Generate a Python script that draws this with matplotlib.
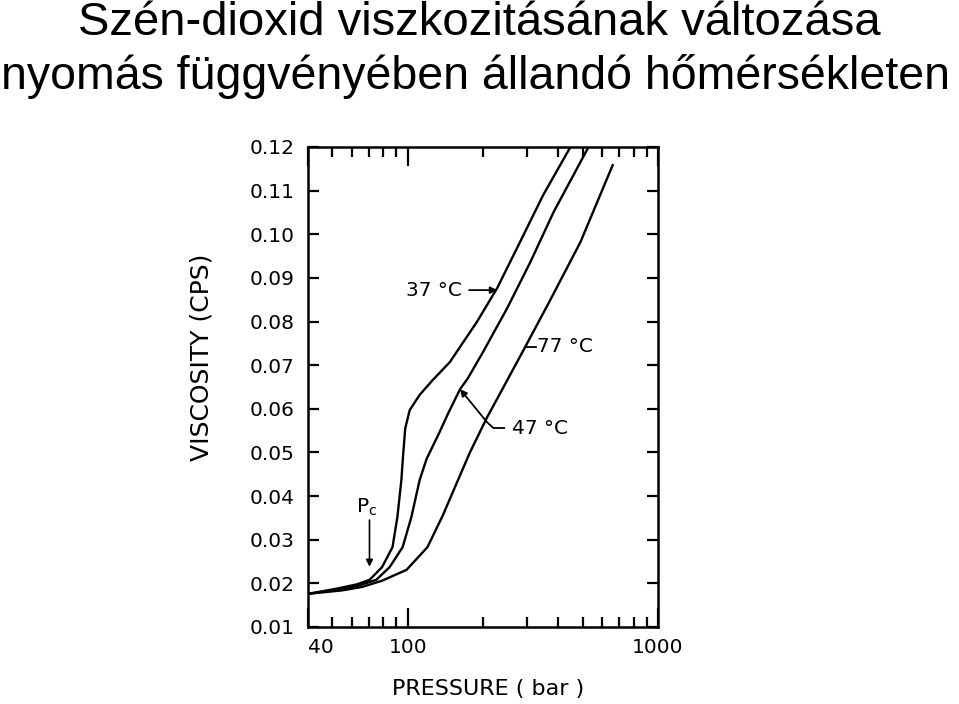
import numpy as np
import matplotlib.pyplot as plt
from matplotlib.ticker import FixedLocator, NullFormatter

plt.rcParams['font.family'] = ['DejaVu Sans']

# pressure (bar) / viscosity (cP)
p_37 = [40, 52.3, 63, 70.4, 79, 87, 91, 94.4, 95.8, 97.8, 101.9, 111.7, 126, 147.4,
        189, 228, 281, 348, 447]
v_37 = [0.0176, 0.0188, 0.0198, 0.0208, 0.0237, 0.0283, 0.0352, 0.0437, 0.049, 0.0555,
        0.0597, 0.0632, 0.0666, 0.0707, 0.0799, 0.0877, 0.0982, 0.109, 0.12]

p_47 = [40, 52, 63, 74.9, 84.7, 95.5, 103.5, 111.7, 119, 134, 145, 162, 174,
        200, 250, 309, 383, 528]
v_47 = [0.0176, 0.0185, 0.0194, 0.0208, 0.0237, 0.0283, 0.0352, 0.0437, 0.0485, 0.0546,
        0.0589, 0.0645, 0.0670, 0.073, 0.0831, 0.0936, 0.1051, 0.12]

p_77 = [40, 55, 66, 79, 99, 120, 138, 159, 177, 207, 238, 295, 371, 490, 660]
v_77 = [0.0176, 0.0184, 0.0192, 0.0206, 0.0231, 0.0283, 0.0355, 0.0437, 0.0499, 0.0579,
        0.0643, 0.0742, 0.0849, 0.0982, 0.1159]

yticks = [0.01, 0.02, 0.03, 0.04, 0.05, 0.06, 0.07, 0.08, 0.09, 0.10, 0.11, 0.12]
xticks = [40, 100, 1000]
xminor = [50, 60, 70, 80, 90, 200, 300, 400, 500, 600, 700, 800, 900]

fig = plt.figure(figsize=(9.59, 7.04), dpi=100)
ax = fig.add_axes([0.3212, 0.1094, 0.3649, 0.6818])

for p, v in [(p_37, v_37), (p_47, v_47), (p_77, v_77)]:
    ax.plot(p, v, color="black", lw=1.7, solid_joinstyle="round", solid_capstyle="round")

ax.set_xscale("log")
ax.set_xlim(40, 1000)
ax.set_ylim(0.01, 0.12)

ax.set_yticks(yticks)
ax.set_yticklabels([f"{t:.2f}" for t in yticks])
ax.xaxis.set_major_locator(FixedLocator(xticks))
ax.set_xticklabels([str(t) for t in xticks])
ax.xaxis.set_minor_locator(FixedLocator(xminor))
ax.xaxis.set_minor_formatter(NullFormatter())
ax.get_xticklabels()[0].set_horizontalalignment("left")

ax.tick_params(axis="y", which="major", direction="in", length=8, width=1.6,
               left=True, right=True, labelsize=14.5, pad=10)
ax.tick_params(axis="x", which="major", direction="in", length=14, width=1.6,
               top=True, bottom=True, labelsize=14.5, pad=8)
ax.tick_params(axis="x", which="minor", direction="in", length=7, width=1.6,
               top=True, bottom=True)
for s in ax.spines.values():
    s.set_linewidth(1.8)

ax.set_ylabel("VISCOSITY (CPS)", fontsize=18)
ax.yaxis.set_label_coords(-0.271, 0.5625)
ax.set_xlabel("PRESSURE ( bar )", fontsize=16)
ax.xaxis.set_label_coords(0.514, -0.108)

# curve labels
ax.annotate("37 °C", xy=(228, 0.0872), xytext=(165, 0.0872), fontsize=14.5,
            ha="right", va="center",
            arrowprops=dict(arrowstyle="-|>", color="black", lw=1.3, shrinkA=3, shrinkB=0,
                            mutation_scale=10))
ax.plot([295, 325], [0.0742, 0.0742], color="black", lw=1.3)
ax.text(330, 0.0742, "77 °C", fontsize=14.5, ha="left", va="center")
ax.annotate("", xy=(162, 0.0645), xytext=(207, 0.0570),
            arrowprops=dict(arrowstyle="-|>", color="black", lw=1.3, shrinkA=0, shrinkB=0,
                            mutation_scale=10))
ax.plot([207, 220, 243], [0.0570, 0.0556, 0.0556], color="black", lw=1.3)
ax.text(262, 0.0556, "47 °C", fontsize=14.5, ha="left", va="center")
ax.text(68.5, 0.0375, "P$_\\mathregular{c}$", fontsize=14.5, ha="center", va="center")
ax.annotate("", xy=(70.4, 0.0238), xytext=(70.4, 0.0345),
            arrowprops=dict(arrowstyle="-|>", color="black", lw=1.2, shrinkA=0, shrinkB=0,
                            mutation_scale=10))

fig.text(0.5, 0.967, "Szén-dioxid viszkozitásának változása", ha="center", va="center",
         fontsize=34, family="Liberation Sans")
fig.text(0.496, 0.891, "nyomás függvényében állandó hőmérsékleten", ha="center", va="center",
         fontsize=33.5, family="Liberation Sans")

fig.savefig("out.png", dpi=100)
